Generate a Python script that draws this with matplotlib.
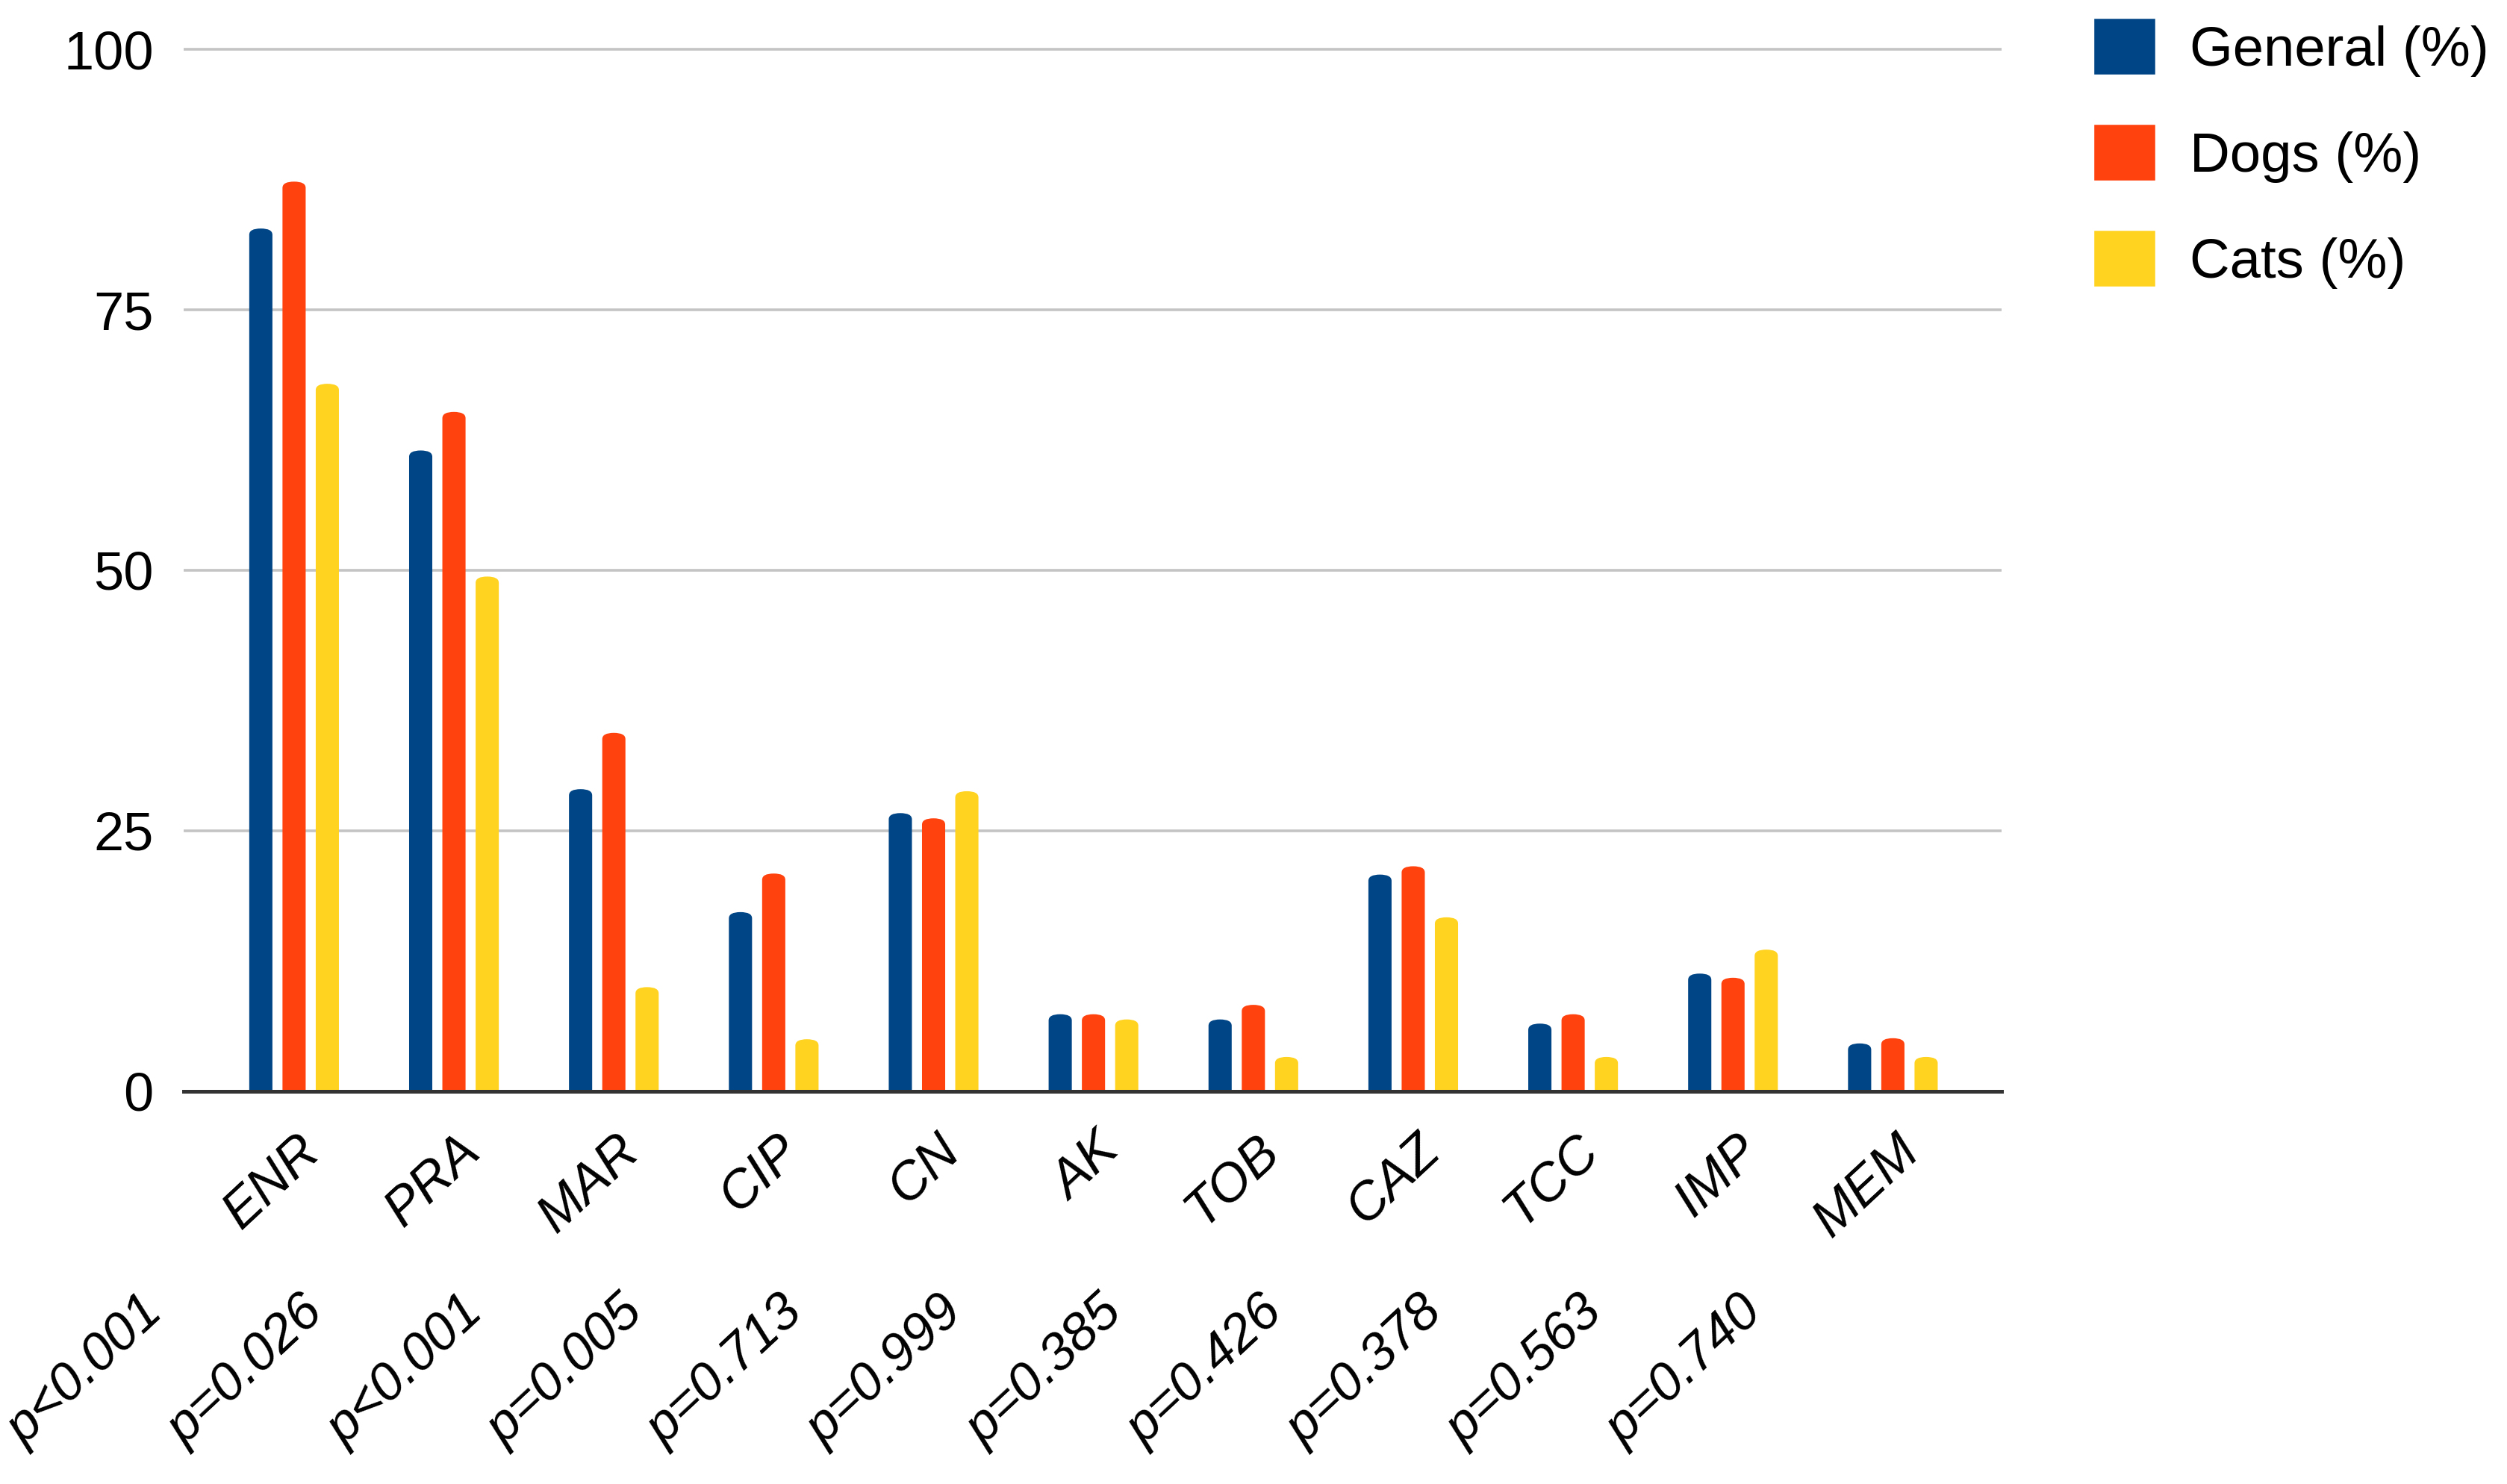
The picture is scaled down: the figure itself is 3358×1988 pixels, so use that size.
import numpy as np
import matplotlib
matplotlib.use("Agg")
import matplotlib.pyplot as plt
from matplotlib.patches import FancyBboxPatch, Patch

plt.rcParams['font.family'] = ['Liberation Sans', 'DejaVu Sans']

# data
drugs = ['ENR', 'PRA', 'MAR', 'CIP', 'CN', 'AK', 'TOB', 'CAZ', 'TCC', 'IMP', 'MEM']
p_values = ['p<0.001', 'p=0.026', 'p<0.001', 'p=0.005', 'p=0.713', 'p=0.999',
            'p=0.385', 'p=0.426', 'p=0.378', 'p=0.563', 'p=0.740']
general = [82.8, 61.5, 29.0, 17.2, 26.7, 7.4, 6.9, 20.8, 6.5, 11.3, 4.6]
dogs = [87.3, 65.2, 34.4, 20.9, 26.2, 7.4, 8.3, 21.6, 7.4, 10.9, 5.1]
cats = [67.9, 49.4, 10.0, 5.0, 28.8, 6.9, 3.3, 16.7, 3.3, 13.6, 3.3]
series_names = ['General (%)', 'Dogs (%)', 'Cats (%)']
colors = ['#004586', '#ff420e', '#ffd320']

fig = plt.figure(figsize=(16.79, 9.94), dpi=200)
ax = fig.add_axes([0.0733, 0.2646, 0.7251, 0.7050])

x = np.arange(len(drugs))
bw = 0.145
pitch = 0.208

# bars, with rounded tops like the original
for k, vals in enumerate([general, dogs, cats]):
    bars = ax.bar(x + (k - 1) * pitch, vals, bw, color=colors[k])
    for rect in bars:
        bx, bwid, bh = rect.get_x(), rect.get_width(), rect.get_height()
        rect.remove()
        rx = bwid / 2
        ax.add_patch(FancyBboxPatch((bx, -2), bwid, bh + 2,
                                    boxstyle="round,pad=0,rounding_size=%f" % rx,
                                    mutation_aspect=0.6 / rx,
                                    facecolor=colors[k], edgecolor='none',
                                    zorder=2))

ax.set_xlim(-0.69, 10.68)
ax.set_ylim(0, 100.4)
ax.set_yticks([0, 25, 50, 75, 100])
ax.tick_params(axis='y', length=0, pad=14.5, labelsize=26)
ax.set_xticks([])
ax.grid(axis='y', color='#c4c4c4', linewidth=1.3, zorder=0)
ax.set_axisbelow(True)
for side in ['top', 'right', 'left']:
    ax.spines[side].set_visible(False)
ax.spines['bottom'].set_color('#333333')
ax.spines['bottom'].set_linewidth(1.8)
ax.spines['bottom'].set_zorder(3)

# slanted category labels and p-values
for i in range(len(drugs)):
    ax.annotate(drugs[i], xy=(x[i], 0), xycoords=('data', 'axes fraction'),
                xytext=(13.7, -30.2), textcoords='offset points',
                rotation=43, rotation_mode='anchor', ha='right', va='baseline',
                fontsize=25.5, fontstyle='italic')
    ax.annotate(p_values[i], xy=(x[i], 0), xycoords=('data', 'axes fraction'),
                xytext=(-62, -108), textcoords='offset points',
                rotation=43, rotation_mode='anchor', ha='right', va='baseline',
                fontsize=25.5, fontstyle='italic')

handles = [Patch(facecolor=c, edgecolor=c, linewidth=2, joinstyle='round') for c in colors]
ax.legend(handles, series_names, loc='upper left',
          bbox_to_anchor=(2808 / 3358, 1 - 28 / 1988), bbox_transform=fig.transFigure,
          frameon=False, fontsize=26.8, handlelength=1.02, handleheight=1.05,
          handletextpad=0.66, labelspacing=0.9, borderpad=0, borderaxespad=0)

fig.savefig('out.png', dpi=200, facecolor='white')
